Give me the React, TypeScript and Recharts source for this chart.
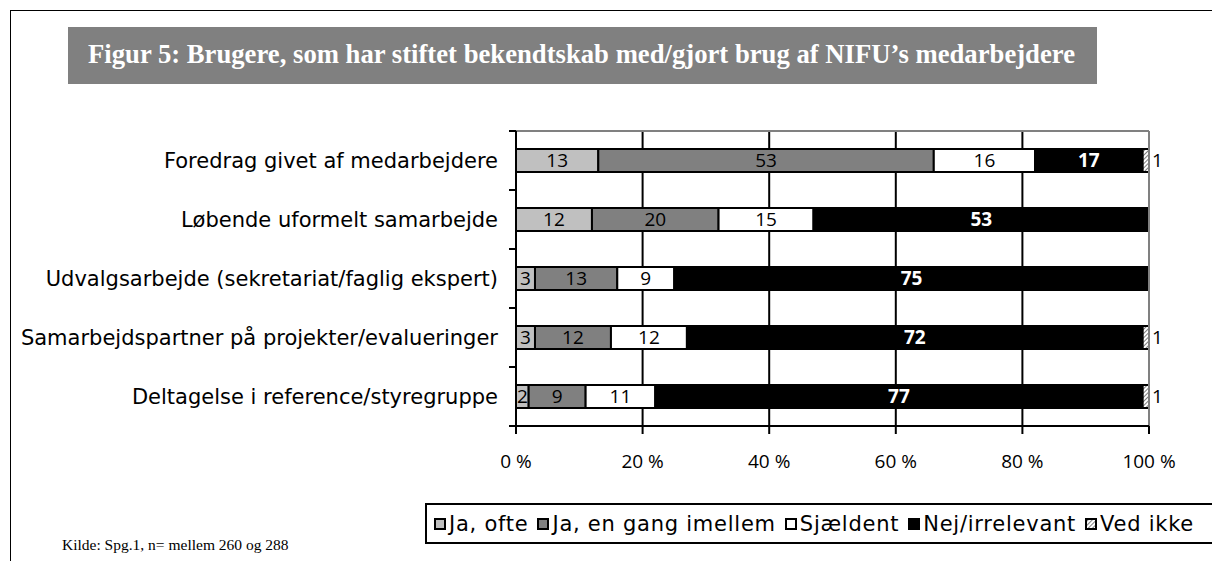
import { BarChart, Bar, XAxis, YAxis, CartesianGrid, ReferenceLine, LabelList } from 'recharts';

const categories = [
  'Foredrag givet af medarbejdere',
  'Løbende uformelt samarbejde',
  'Udvalgsarbejde (sekretariat/faglig ekspert)',
  'Samarbejdspartner på projekter/evalueringer',
  'Deltagelse i reference/styregruppe',
];

const jaOfte = [13, 12, 3, 3, 2];
const jaEnGang = [53, 20, 13, 12, 9];
const sjaeldent = [16, 15, 9, 12, 11];
const nejIrrelevant = [17, 53, 75, 72, 77];
const vedIkke = [1, 0, 0, 1, 1];

const xTicks = [0, 20, 40, 60, 80, 100];

const series = [
  { key: 'jaOfte', name: 'Ja, ofte', fill: '#c0c0c0' },
  { key: 'jaEnGang', name: 'Ja, en gang imellem', fill: '#808080' },
  { key: 'sjaeldent', name: 'Sjældent', fill: '#ffffff' },
  { key: 'nej', name: 'Nej/irrelevant', fill: '#000000' },
  { key: 'vedIkke', name: 'Ved ikke', fill: 'url(#hatch)' },
];

const data = categories.map((category, i) => ({
  category,
  jaOfte: jaOfte[i],
  jaEnGang: jaEnGang[i],
  sjaeldent: sjaeldent[i],
  nej: nejIrrelevant[i],
  vedIkke: vedIkke[i],
}));

const numFont = '"Open Sans", sans-serif';
const labelFont = '"DejaVu Sans", sans-serif';

// category label + tick marks on the band edges (Excel style)
function CategoryTick(props: any) {
  const { x, y, payload, index, visibleTicksCount } = props;
  const half = payload?.offset ?? 0;
  const last = index === visibleTicksCount - 1;
  return (
    <g>
      <text x={x - 18} y={y} dy="0.36em" textAnchor="end" fill="#000" fontSize={21} fontFamily={labelFont}>
        {payload.value}
      </text>
      <line x1={x - 7} x2={x} y1={y - half} y2={y - half} stroke="#000" strokeWidth={2} />
      {last && <line x1={x - 7} x2={x} y1={y + half} y2={y + half} stroke="#000" strokeWidth={2} />}
    </g>
  );
}

function Swatch({ fill }: { fill: string }) {
  return (
    <svg width={12} height={12} style={{ marginRight: 3 }}>
      <rect x={1} y={1} width={10} height={10} fill={fill} stroke="#000" strokeWidth={2} />
    </svg>
  );
}

export default function App() {
  return (
    <div style={{ position: 'absolute', left: 0, top: 0, width: 1212, height: 561, background: '#fff', overflow: 'hidden' }}>
      <svg width={0} height={0} style={{ position: 'absolute' }}>
        <defs>
          <pattern id="hatch" width={3} height={3} patternUnits="userSpaceOnUse" patternTransform="rotate(45)">
            <rect width={3} height={3} fill="#fff" />
            <line x1={0} y1={0} x2={0} y2={3} stroke="#555" strokeWidth={1.5} />
          </pattern>
        </defs>
      </svg>

      {/* frame lines */}
      <div style={{ position: 'absolute', left: 10, top: 10, right: 0, bottom: 0, borderTop: '1px solid #000', borderLeft: '1px solid #000' }} />

      {/* title */}
      <svg width={1212} height={100} style={{ position: 'absolute', left: 0, top: 0 }}>
        <rect x={68} y={27} width={1029} height={57} fill="#808080" />
        <text
          x={88}
          y={63}
          fill="#fff"
          fontFamily='"Liberation Serif", serif'
          fontWeight="bold"
          fontSize={27}
          textLength={987}
          lengthAdjust="spacingAndGlyphs"
        >
          Figur 5: Brugere, som har stiftet bekendtskab med/gjort brug af NIFU’s medarbejdere
        </text>
      </svg>

      <div style={{ position: 'absolute', left: 0, top: 0 }}>
        <BarChart
          layout="vertical"
          width={1212}
          height={561}
          data={data}
          margin={{ top: 131, right: 63, bottom: 95, left: 0 }}
          barCategoryGap="30.5%"
        >
          <CartesianGrid horizontal={false} stroke="#000" strokeWidth={2} />
          <CartesianGrid
            vertical={false}
            stroke="#808080"
            strokeWidth={2}
            horizontalCoordinatesGenerator={({ offset }: any) => [offset.top]}
          />
          <XAxis
            type="number"
            domain={[0, 100]}
            ticks={xTicks}
            tickFormatter={(v) => `${v} %`}
            axisLine={{ stroke: '#000', strokeWidth: 2 }}
            tickLine={{ stroke: '#000', strokeWidth: 2 }}
            tickSize={8}
            tickMargin={21}
            height={40}
            tick={{ fill: '#000', fontSize: 19, fontFamily: numFont }}
          />
          <YAxis
            type="category"
            dataKey="category"
            width={516}
            axisLine={{ stroke: '#000', strokeWidth: 2 }}
            tickLine={false}
            tickSize={0}
            tickMargin={0}
            tick={<CategoryTick />}
          />
          {series.map((s, i) => (
            <Bar
              key={s.key}
              dataKey={s.key}
              name={s.name}
              stackId="a"
              fill={s.fill}
              stroke="#000"
              strokeWidth={2}
              isAnimationActive={false}
            >
              {i < 4 && (
                <LabelList
                  dataKey={s.key}
                  position="center"
                  fill={i === 3 ? '#fff' : '#000'}
                  fontWeight={i === 3 ? 'bold' : 'normal'}
                  fontSize={19}
                  fontFamily={numFont}
                />
              )}
              {i === 4 && (
                <LabelList
                  dataKey={s.key}
                  position="right"
                  offset={3}
                  formatter={(v: any) => (v > 0 ? v : '')}
                  fill="#000"
                  fontSize={19}
                  fontFamily={numFont}
                />
              )}
            </Bar>
          ))}
          <ReferenceLine x={100} stroke="#808080" strokeWidth={2} />
        </BarChart>
      </div>

      {/* legend */}
      <div
        style={{
          position: 'absolute',
          left: 425,
          top: 503,
          width: 800,
          height: 41,
          border: '2px solid #000',
          display: 'flex',
          alignItems: 'center',
          paddingLeft: 7,
          fontFamily: labelFont,
          fontSize: 21,
          letterSpacing: 0.75,
          whiteSpace: 'nowrap',
          boxSizing: 'border-box',
        }}
      >
        {series.map((s) => (
          <span key={s.key} style={{ marginRight: 9, display: 'inline-flex', alignItems: 'center' }}>
            <Swatch fill={s.fill} />
            {s.name}
          </span>
        ))}
      </div>

      {/* source */}
      <div
        style={{
          position: 'absolute',
          left: 62,
          top: 536,
          fontFamily: '"Liberation Serif", serif',
          fontSize: 15.5,
          color: '#000',
          whiteSpace: 'nowrap',
        }}
      >
        Kilde: Spg.1, n= mellem 260 og 288
      </div>
    </div>
  );
}
